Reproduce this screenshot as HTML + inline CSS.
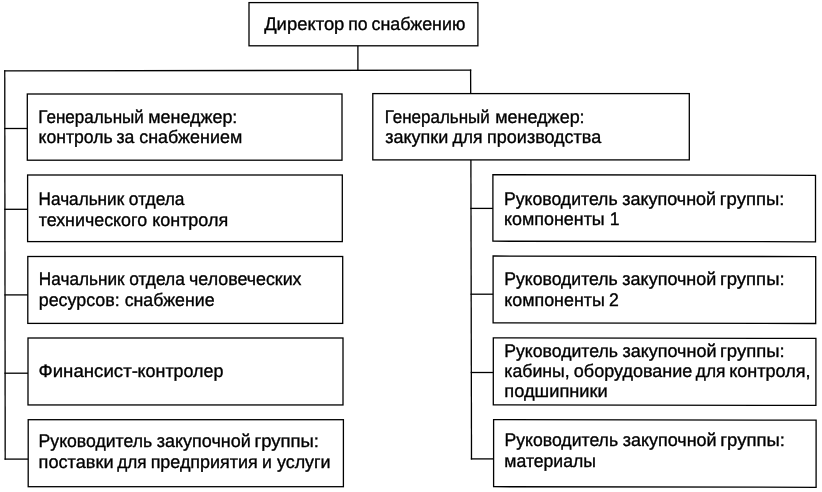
<!DOCTYPE html>
<html lang="ru">
<head>
<meta charset="utf-8">
<title>Директор по снабжению</title>
<style>
html,body{margin:0;padding:0;background:#fff;}
body{width:822px;height:492px;overflow:hidden;position:relative;}
svg{position:absolute;left:0;top:0;display:block;will-change:transform;}
text{font-family:"Liberation Sans",sans-serif;font-size:18.2px;fill:#000;stroke:#000;stroke-width:0.35;stroke-linejoin:round;text-rendering:geometricPrecision;}
rect,polygon{fill:#fff;stroke:#000;stroke-width:1.3;}
line{stroke:#000;stroke-width:1.3;stroke-linecap:square;}
</style>
</head>
<body>
<svg width="822" height="492" viewBox="0 0 822 492">
<line x1="357.9" y1="45.8" x2="357.9" y2="70.4"/>
<line x1="4.75" y1="70.8" x2="470.6" y2="70.2"/>
<line x1="4.75" y1="70.8" x2="5.2" y2="459.1"/>
<line x1="470.6" y1="70.2" x2="470.7" y2="93.6"/>
<line x1="4.82" y1="128.5" x2="27.3" y2="128.5"/>
<line x1="4.91" y1="209.3" x2="27.6" y2="209.3"/>
<line x1="5.01" y1="294.9" x2="27.8" y2="294.9"/>
<line x1="5.1" y1="373.2" x2="28.0" y2="373.2"/>
<line x1="5.2" y1="459.1" x2="28.2" y2="459.1"/>
<line x1="470.9" y1="159.9" x2="471.5" y2="458.9"/>
<line x1="471.0" y1="208.4" x2="492.9" y2="208.4"/>
<line x1="471.17" y1="294.2" x2="493.1" y2="294.2"/>
<line x1="471.33" y1="372.5" x2="493.3" y2="372.5"/>
<line x1="471.5" y1="458.9" x2="493.6" y2="458.9"/>
<rect x="249.0" y="2.6" width="228.9" height="43.2"/>
<rect x="27.3" y="94.0" width="314.7" height="66.2"/>
<rect x="27.6" y="175.0" width="314.7" height="66.6"/>
<rect x="27.8" y="256.5" width="314.9" height="66.9"/>
<rect x="28.0" y="338.0" width="315.0" height="66.95"/>
<rect x="28.2" y="419.7" width="315.2" height="67.0"/>
<rect x="372.8" y="93.6" width="316.5" height="66.3"/>
<polygon points="492.9,174.7 815.5,175.3 815.5,241.8 492.9,241.2"/>
<polygon points="493.1,256.0 815.7,256.6 815.7,323.5 493.1,322.9"/>
<polygon points="493.3,337.8 815.9,338.4 815.9,405.4 493.3,404.8"/>
<polygon points="493.6,419.6 816.1,420.2 816.1,487.3 493.6,486.7"/>
<g><text transform="translate(264.15 30.00) scale(1.0124 1)">Директор</text> <text transform="translate(348.23 30.00) scale(0.9700 1)">по</text> <text transform="translate(371.45 30.00) scale(0.9822 1)">снабжению</text> </g>
<g><text transform="translate(38.37 123.00) scale(0.9379 1)">Генеральный</text> <text transform="translate(148.23 123.00) scale(0.9851 1)">менеджер:</text> </g>
<g><text transform="translate(38.56 143.00) scale(0.9682 1)">контроль</text> <text transform="translate(116.52 143.00) scale(0.9700 1)">за</text> <text transform="translate(139.25 143.00) scale(0.9846 1)">снабжением</text> </g>
<g><text transform="translate(38.57 205.00) scale(0.9444 1)">Начальник</text> <text transform="translate(128.87 205.00) scale(0.9549 1)">отдела</text> </g>
<g><text transform="translate(38.65 226.00) scale(0.9815 1)">технического</text> <text transform="translate(152.14 226.00) scale(0.9882 1)">контроля</text> </g>
<g><text transform="translate(38.87 285.00) scale(0.9444 1)">Начальник</text> <text transform="translate(129.17 285.00) scale(0.9549 1)">отдела</text> <text transform="translate(189.04 285.00) scale(0.9800 1)">человеческих</text> </g>
<g><text transform="translate(38.73 306.00) scale(0.9825 1)">ресурсов:</text> <text transform="translate(124.65 306.00) scale(0.9766 1)">снабжение</text> </g>
<g><text transform="translate(38.48 377.00) scale(1.0257 1)">Финансист-</text><text transform="translate(137.55 377.00) scale(0.9834 1)">контролер</text> </g>
<g><text transform="translate(38.54 447.00) scale(0.9699 1)">Руководитель</text> <text transform="translate(156.73 447.00) scale(0.9891 1)">закупочной</text> <text transform="translate(254.39 447.00) scale(1.0179 1)">группы:</text> </g>
<g><text transform="translate(38.61 468.00) scale(0.9985 1)">поставки</text> <text transform="translate(117.33 468.00) scale(0.9435 1)">для</text> <text transform="translate(150.63 468.00) scale(0.9862 1)">предприятия</text> <text transform="translate(262.06 468.00) scale(0.9700 1)">и</text> <text transform="translate(276.92 468.00) scale(0.9857 1)">услуги</text> </g>
<g><text transform="translate(384.68 123.00) scale(0.9334 1)">Генеральный</text> <text transform="translate(495.22 123.00) scale(0.9885 1)">менеджер:</text> </g>
<g><text transform="translate(385.23 143.00) scale(0.9901 1)">закупки</text> <text transform="translate(452.53 143.00) scale(0.9635 1)">для</text> <text transform="translate(487.12 143.00) scale(0.9888 1)">производства</text> </g>
<g><text transform="translate(503.94 205.00) scale(0.9699 1)">Руководитель</text> <text transform="translate(622.13 205.00) scale(0.9891 1)">закупочной</text> <text transform="translate(719.79 205.00) scale(1.0179 1)">группы:</text> </g>
<g><text transform="translate(504.05 225.00) scale(0.9837 1)">компоненты</text> <text transform="translate(609.78 225.00) scale(0.9700 1)">1</text> </g>
<g><text transform="translate(504.14 285.00) scale(0.9699 1)">Руководитель</text> <text transform="translate(622.33 285.00) scale(0.9891 1)">закупочной</text> <text transform="translate(719.99 285.00) scale(1.0179 1)">группы:</text> </g>
<g><text transform="translate(504.25 306.00) scale(0.9827 1)">компоненты</text> <text transform="translate(608.98 306.00) scale(0.9700 1)">2</text> </g>
<g><text transform="translate(504.24 357.00) scale(0.9699 1)">Руководитель</text> <text transform="translate(622.43 357.00) scale(0.9891 1)">закупочной</text> <text transform="translate(720.09 357.00) scale(1.0179 1)">группы:</text> </g>
<g><text transform="translate(504.36 377.00) scale(0.9719 1)">кабины,</text> <text transform="translate(573.85 377.00) scale(0.9905 1)">оборудование</text> <text transform="translate(695.83 377.00) scale(0.9535 1)">для</text> <text transform="translate(729.14 377.00) scale(0.9930 1)">контроля,</text> </g>
<g><text transform="translate(504.31 397.00) scale(1.0029 1)">подшипники</text> </g>
<g><text transform="translate(504.44 446.00) scale(0.9699 1)">Руководитель</text> <text transform="translate(622.63 446.00) scale(0.9891 1)">закупочной</text> <text transform="translate(720.29 446.00) scale(1.0179 1)">группы:</text> </g>
<g><text transform="translate(504.34 467.00) scale(0.9694 1)">материалы</text> </g>
</svg>
</body>
</html>
